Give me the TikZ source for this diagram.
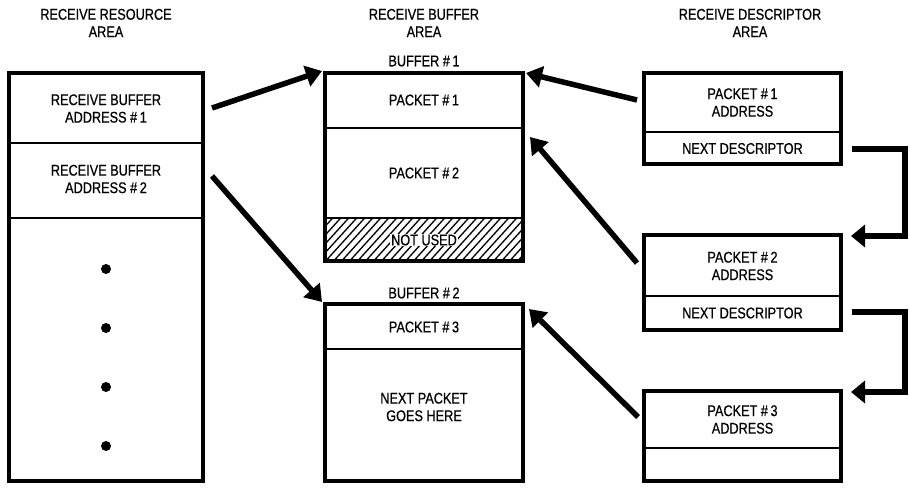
\documentclass[tikz,border=0pt]{standalone}
\usepackage{fontspec}
\setmainfont{Liberation Sans}[FakeStretch=0.82,FakeBold=0.6]
\usetikzlibrary{arrows.meta}
\begin{document}
\begin{tikzpicture}[x=1pt,y=-1pt,
  frame/.style={draw, line width=3.5pt, inner sep=0pt, minimum width=#1},
  divider/.style={line width=2pt},
  lbl/.style={align=center, inner sep=0pt, font=\fontsize{15.5}{17.5}\selectfont},
  bigarrow/.style={line width=5.5pt, -{Triangle[length=16pt,width=21pt]}},
  elbow/.style={line width=5.5pt, line join=miter, -{Triangle[length=14pt,width=22pt]}},
  dot/.style={circle, fill=black, inner sep=0pt, minimum size=10pt}
]
\useasboundingbox (0,0) rectangle (910,490);
\fill[white] (0,0) rectangle (910,490);

% headers
\node[lbl] (h1) at (106,23) {RECEIVE RESOURCE\\AREA};
\node[lbl] (h2) at (424,23) {RECEIVE BUFFER\\AREA};
\node[lbl] (h3) at (750,23) {RECEIVE DESCRIPTOR\\AREA};
\node[lbl] (bl1) at (424,61) {BUFFER \#\,1};
\node[lbl] (bl2) at (424,293) {BUFFER \#\,2};

% hatch
\begin{scope}
  \clip (325,218) rectangle (523,261);
  \foreach \i in {0,8,...,260}
    \draw[line width=1.3pt] (290+\i,265) -- ++(50,-55);
\end{scope}

% frames
\node[frame=194pt, minimum height=408pt] (res) at (106,277) {};
\node[frame=198pt, minimum height=188pt] (buf1) at (424,167) {};
\node[frame=198pt, minimum height=177pt] (buf2) at (424,392.5) {};
\node[frame=197pt, minimum height=91pt] (d1) at (742.5,118.5) {};
\node[frame=197pt, minimum height=95pt] (d2) at (742.5,282.5) {};
\node[frame=197pt, minimum height=90pt] (d3) at (742.5,436) {};

% dividers
\draw[divider] (res.west |- 0,143) -- (res.east |- 0,143);
\draw[divider] (res.west |- 0,218) -- (res.east |- 0,218);
\draw[divider] (buf1.west |- 0,128) -- (buf1.east |- 0,128);
\draw[divider] (buf1.west |- 0,218) -- (buf1.east |- 0,218);
\draw[divider] (buf2.west |- 0,349) -- (buf2.east |- 0,349);
\draw[divider] (d1.west |- 0,132) -- (d1.east |- 0,132);
\draw[divider] (d2.west |- 0,296) -- (d2.east |- 0,296);
\draw[divider] (d3.west |- 0,448) -- (d3.east |- 0,448);

% texts
\node[lbl] (r1) at (106,108.5) {RECEIVE BUFFER\\ADDRESS \#\,1};
\node[lbl] (r2) at (106,179) {RECEIVE BUFFER\\ADDRESS \#\,2};
\node[dot] (b1) at (106,269) {};
\node[dot] (b2) at (106,328) {};
\node[dot] (b3) at (106,387) {};
\node[dot] (b4) at (106,446) {};

\node[lbl] (p1) at (424,100) {PACKET \#\,1};
\node[lbl] (p2) at (424,173) {PACKET \#\,2};
\node[lbl, fill=white, inner xsep=1.5pt, inner ysep=1pt] (nu) at (424,240) {NOT USED};
\node[lbl] (p3) at (424,327) {PACKET \#\,3};
\node[lbl] (np) at (424,407) {NEXT PACKET\\GOES HERE};

\node[lbl] (d1a) at (742.5,102.5) {PACKET \#\,1\\ADDRESS};
\node[lbl] (d1n) at (742.5,148.5) {NEXT DESCRIPTOR};
\node[lbl] (d2a) at (742.5,266) {PACKET \#\,2\\ADDRESS};
\node[lbl] (d2n) at (742.5,313) {NEXT DESCRIPTOR};
\node[lbl] (d3a) at (742.5,419.5) {PACKET \#\,3\\ADDRESS};

% arrows
\coordinate (a1s) at (212,108);  \coordinate (a1e) at (322,71);
\coordinate (a2s) at (212,176);  \coordinate (a2e) at (322,302);
\coordinate (a3s) at (637,100);  \coordinate (a3e) at (526,73);
\coordinate (a4s) at (637,263);  \coordinate (a4e) at (530,137);
\coordinate (a5s) at (638,417);  \coordinate (a5e) at (529,309);
\draw[bigarrow] (a1s) -- (a1e);
\draw[bigarrow] (a2s) -- (a2e);
\draw[bigarrow] (a3s) -- (a3e);
\draw[bigarrow] (a4s) -- (a4e);
\draw[bigarrow] (a5s) -- (a5e);

\coordinate (e1s) at (852,149); \coordinate (e1e) at (851,236);
\coordinate (e2s) at (852,312); \coordinate (e2e) at (851,392);
\draw[elbow] (e1s) -- ++(53,0) |- (e1e);
\draw[elbow] (e2s) -- ++(53,0) |- (e2e);
\end{tikzpicture}
\end{document}
